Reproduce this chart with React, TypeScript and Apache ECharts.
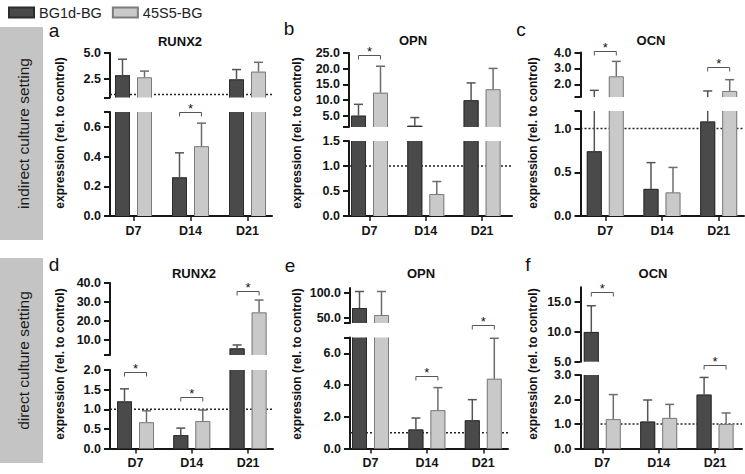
import React, { useEffect, useRef } from 'react';
import * as echarts from 'echarts';

const CATEGORIES = ['D7', 'D14', 'D21'];
const GROUPS = ['BG1d-BG', '45S5-BG'];
const REF_LEVEL = 1;

// a: RUNX2, indirect
const A_BG1D = [2.85, 0.26, 2.45];
const A_BG1D_SD = [1.55, 0.165, 0.95];
const A_45S5 = [2.65, 0.47, 3.2];
const A_45S5_SD = [0.6, 0.155, 0.9];
// b: OPN, indirect
const B_BG1D = [5.1, 1.9, 10.0];
const B_BG1D_SD = [3.6, 2.6, 5.5];
const B_45S5 = [12.4, 0.44, 13.5];
const B_45S5_SD = [8.4, 0.25, 6.6];
// c: OCN, indirect
const C_BG1D = [0.74, 0.31, 1.08];
const C_BG1D_SD = [0.88, 0.3, 0.5];
const C_45S5 = [2.5, 0.27, 1.58];
const C_45S5_SD = [0.94, 0.285, 0.71];
// d: RUNX2, direct
const D_BG1D = [1.2, 0.34, 5.5];
const D_BG1D_SD = [0.32, 0.18, 1.8];
const D_45S5 = [0.67, 0.7, 24.5];
const D_45S5_SD = [0.29, 0.28, 6.5];
// e: OPN, direct
const E_BG1D = [70, 1.2, 1.78];
const E_BG1D_SD = [33, 0.72, 1.3];
const E_45S5 = [56, 2.42, 4.4];
const E_45S5_SD = [47, 1.42, 2.55];
// f: OCN, direct
const F_BG1D = [10.0, 1.1, 2.2];
const F_BG1D_SD = [4.4, 0.88, 0.7];
const F_45S5 = [1.2, 1.25, 1.0];
const F_45S5_SD = [1.0, 0.55, 0.45];

// significance brackets: [category index, bracket level]
const A_SIG_UPPER: number[][] = [];
const A_SIG_LOWER = [[1, 0.7]];
const B_SIG_UPPER = [[0, 24.5]];
const B_SIG_LOWER: number[][] = [];
const C_SIG_UPPER = [[0, 4.12], [2, 3.1]];
const C_SIG_LOWER: number[][] = [];
const D_SIG_UPPER = [[2, 36]];
const D_SIG_LOWER = [[0, 1.95], [1, 1.3]];
const E_SIG_UPPER: number[][] = [];
const E_SIG_LOWER = [[1, 4.6], [2, 7.8]];
const F_SIG_UPPER = [[0, 16.7]];
const F_SIG_LOWER = [[2, 3.4]];

// axis segments (broken y axes)
const A_UPPER = [0.7, 5.0]; const A_UPPER_TICKS = [0.7, 2.5, 5.0]; const A_UPPER_LABELS = [2.5, 5.0];
const A_LOWER_MAX = 0.7; const A_LOWER_TICKS = [0, 0.2, 0.4, 0.6, 0.7]; const A_LOWER_LABELS = [0, 0.2, 0.4, 0.6];
const B_UPPER = [1.5, 25]; const B_UPPER_TICKS = [1.5, 5, 10, 15, 20, 25]; const B_UPPER_LABELS = [5, 10, 15, 20, 25];
const B_LOWER_MAX = 1.5; const B_LOWER_TICKS = [0, 0.5, 1, 1.5]; const B_LOWER_LABELS = [0, 0.5, 1, 1.5];
const C_UPPER = [1.2, 4]; const C_UPPER_TICKS = [1.2, 2, 3, 4]; const C_UPPER_LABELS = [2, 3, 4];
const C_LOWER_MAX = 1.2; const C_LOWER_TICKS = [0, 0.5, 1, 1.2]; const C_LOWER_LABELS = [0, 0.5, 1];
const D_UPPER = [2, 40]; const D_UPPER_TICKS = [2, 10, 20, 30, 40]; const D_UPPER_LABELS = [10, 20, 30, 40];
const D_LOWER_MAX = 2; const D_LOWER_TICKS = [0, 0.5, 1, 1.5, 2]; const D_LOWER_LABELS = [0, 0.5, 1, 1.5, 2];
const E_UPPER = [40, 110]; const E_UPPER_TICKS = [40, 50, 100]; const E_UPPER_LABELS = [50, 100];
const E_LOWER_MAX = 7; const E_LOWER_TICKS = [0, 2, 4, 6, 7]; const E_LOWER_LABELS = [0, 2, 4, 6];
const F_UPPER = [5, 17.5]; const F_UPPER_TICKS = [5, 10, 15]; const F_UPPER_LABELS = [5, 10, 15];
const F_LOWER_MAX = 3; const F_LOWER_TICKS = [0, 1, 2, 3]; const F_LOWER_LABELS = [0, 1, 2, 3];

const FONT = 'Liberation Sans, Arial, sans-serif';
const AXIS_COLOR = '#161616';
const DARK_FILL = '#4a4a4a';
const DARK_STROKE = '#2c2c2c';
const DARK_WHISKER = '#555555';
const LIGHT_FILL = '#c9c9c9';
const LIGHT_STROKE = '#7c7c7c';
const LIGHT_WHISKER = '#6c6c6c';
const BAR_W = 15;
const BAR_OFF = 11;

const PANELS = [
  { letter: 'a', title: 'RUNX2', bg1d: A_BG1D, bg1dSd: A_BG1D_SD, s45: A_45S5, s45Sd: A_45S5_SD,
    upper: A_UPPER, upperTicks: A_UPPER_TICKS, upperLabels: A_UPPER_LABELS,
    lowerMax: A_LOWER_MAX, lowerTicks: A_LOWER_TICKS, lowerLabels: A_LOWER_LABELS,
    sigUpper: A_SIG_UPPER, sigLower: A_SIG_LOWER,
    lay: { axisX: 110, cat0: 133.5, step: 57, endX: 272, uT: 53, uB: 97.5, lT: 112, lB: 216, titleX: 180, titleY: 41, nameX: 60, nameY: 133, letterX: 54, letterY: 30 } },
  { letter: 'b', title: 'OPN', bg1d: B_BG1D, bg1dSd: B_BG1D_SD, s45: B_45S5, s45Sd: B_45S5_SD,
    upper: B_UPPER, upperTicks: B_UPPER_TICKS, upperLabels: B_UPPER_LABELS,
    lowerMax: B_LOWER_MAX, lowerTicks: B_LOWER_TICKS, lowerLabels: B_LOWER_LABELS,
    sigUpper: B_SIG_UPPER, sigLower: B_SIG_LOWER,
    lay: { axisX: 349, cat0: 369.5, step: 56.3, endX: 512, uT: 53, uB: 127, lT: 141, lB: 216, titleX: 413, titleY: 40, nameX: 297, nameY: 133, letterX: 289, letterY: 28 } },
  { letter: 'c', title: 'OCN', bg1d: C_BG1D, bg1dSd: C_BG1D_SD, s45: C_45S5, s45Sd: C_45S5_SD,
    upper: C_UPPER, upperTicks: C_UPPER_TICKS, upperLabels: C_UPPER_LABELS,
    lowerMax: C_LOWER_MAX, lowerTicks: C_LOWER_TICKS, lowerLabels: C_LOWER_LABELS,
    sigUpper: C_SIG_UPPER, sigLower: C_SIG_LOWER,
    lay: { axisX: 580.5, cat0: 605.3, step: 56.7, endX: 744, uT: 52.5, uB: 97, lT: 111, lB: 216, titleX: 651, titleY: 40, nameX: 533, nameY: 133, letterX: 521, letterY: 29 } },
  { letter: 'd', title: 'RUNX2', bg1d: D_BG1D, bg1dSd: D_BG1D_SD, s45: D_45S5, s45Sd: D_45S5_SD,
    upper: D_UPPER, upperTicks: D_UPPER_TICKS, upperLabels: D_UPPER_LABELS,
    lowerMax: D_LOWER_MAX, lowerTicks: D_LOWER_TICKS, lowerLabels: D_LOWER_LABELS,
    sigUpper: D_SIG_UPPER, sigLower: D_SIG_LOWER,
    lay: { axisX: 110, cat0: 135.5, step: 56.3, endX: 273, uT: 283, uB: 355, lT: 370, lB: 448.5, titleX: 194, titleY: 273, nameX: 60, nameY: 364, letterX: 54, letterY: 264 } },
  { letter: 'e', title: 'OPN', bg1d: E_BG1D, bg1dSd: E_BG1D_SD, s45: E_45S5, s45Sd: E_45S5_SD,
    upper: E_UPPER, upperTicks: E_UPPER_TICKS, upperLabels: E_UPPER_LABELS,
    lowerMax: E_LOWER_MAX, lowerTicks: E_LOWER_TICKS, lowerLabels: E_LOWER_LABELS,
    sigUpper: E_SIG_UPPER, sigLower: E_SIG_LOWER,
    lay: { axisX: 350, cat0: 370.5, step: 56.4, endX: 508, uT: 288, uB: 323, lT: 337.5, lB: 448.5, titleX: 421, titleY: 273, nameX: 297, nameY: 364, letterX: 290, letterY: 265 } },
  { letter: 'f', title: 'OCN', bg1d: F_BG1D, bg1dSd: F_BG1D_SD, s45: F_45S5, s45Sd: F_45S5_SD,
    upper: F_UPPER, upperTicks: F_UPPER_TICKS, upperLabels: F_UPPER_LABELS,
    lowerMax: F_LOWER_MAX, lowerTicks: F_LOWER_TICKS, lowerLabels: F_LOWER_LABELS,
    sigUpper: F_SIG_UPPER, sigLower: F_SIG_LOWER,
    lay: { axisX: 580.5, cat0: 602.3, step: 56.4, endX: 742, uT: 287.3, uB: 361.7, lT: 375, lB: 448.5, titleX: 653, titleY: 273, nameX: 533, nameY: 364, letterX: 528, letterY: 264 } },
];

const SIDE_BOXES = [
  { text: 'indirect culture setting', y: 27, h: 213 },
  { text: 'direct culture setting', y: 258, h: 205 },
];

function barRenderer(off: number, fill: string, stroke: string, whisker: string) {
  return (params: any, api: any) => {
    const cs = params.coordSys;
    const top = cs.y;
    const bottom = cs.y + cs.height;
    const i = api.value(0);
    const v = api.value(1);
    const e = api.value(2);
    const cx = api.coord([i, 0])[0] + off;
    const yv = api.coord([i, v])[1];
    const ye = api.coord([i, v + e])[1];
    const L = cx - BAR_W / 2;
    const R = cx + BAR_W / 2;
    const ch: any[] = [];
    if (yv < bottom - 0.01) {
      const yt = Math.max(yv, top);
      ch.push({ type: 'rect', shape: { x: L, y: yt, width: BAR_W, height: bottom - yt }, style: { fill } });
      if (yv >= top) {
        ch.push({ type: 'polyline', shape: { points: [[L + 0.5, bottom], [L + 0.5, yv + 0.5], [R - 0.5, yv + 0.5], [R - 0.5, bottom]] }, style: { fill: 'none', stroke, lineWidth: 1 } });
      } else {
        ch.push({ type: 'line', shape: { x1: L + 0.5, y1: top, x2: L + 0.5, y2: bottom }, style: { stroke, lineWidth: 1 } });
        ch.push({ type: 'line', shape: { x1: R - 0.5, y1: top, x2: R - 0.5, y2: bottom }, style: { stroke, lineWidth: 1 } });
      }
    }
    const wTop = Math.max(ye, top);
    const wBot = Math.min(yv, bottom);
    if (wTop < wBot) {
      ch.push({ type: 'line', shape: { x1: cx, y1: wBot, x2: cx, y2: wTop }, style: { stroke: whisker, lineWidth: 1.5 } });
    }
    if (ye >= top - 0.5 && ye <= bottom) {
      ch.push({ type: 'line', shape: { x1: cx - 4.5, y1: ye, x2: cx + 4.5, y2: ye }, style: { stroke: whisker, lineWidth: 1.5 } });
    }
    return { type: 'group', children: ch };
  };
}

const bracketRenderer = (params: any, api: any) => {
  const c = api.coord([api.value(0), api.value(1)]);
  const xl = c[0] - BAR_OFF;
  const xr = c[0] + BAR_OFF;
  const y = Math.round(c[1]) + 0.5;
  return {
    type: 'group',
    children: [
      { type: 'polyline', shape: { points: [[xl, y + 4], [xl, y], [xr, y], [xr, y + 4]] }, style: { fill: 'none', stroke: '#555', lineWidth: 1 } },
      { type: 'text', x: c[0], y: y - 4, style: { text: '*', fill: '#111', font: `13px ${FONT}`, align: 'center', textAlign: 'center', verticalAlign: 'middle', textVerticalAlign: 'middle' } },
    ],
  };
};

const refRenderer = (params: any, api: any) => {
  const cs = params.coordSys;
  const y = api.coord([0, api.value(0)])[1];
  if (y < cs.y || y > cs.y + cs.height) return { type: 'group', children: [] };
  return { type: 'line', shape: { x1: cs.x, y1: y, x2: cs.x + cs.width, y2: y }, style: { stroke: '#222', lineWidth: 1.5, lineDash: [2, 2] } };
};

function buildOption() {
  const grid: any[] = [];
  const xAxis: any[] = [];
  const yAxis: any[] = [];
  const series: any[] = [];
  const graphic: any[] = [];
  const labelStyle = { fontFamily: FONT, fontWeight: 'bold', fontSize: 12.5, color: '#141414' };

  SIDE_BOXES.forEach((b) => {
    graphic.push({ type: 'rect', shape: { x: 0, y: b.y, width: 43, height: b.h }, style: { fill: '#c4c4c4' }, silent: true });
    graphic.push({ type: 'text', x: 23, y: b.y + b.h / 2, rotation: Math.PI / 2, style: { text: b.text, fill: '#1a1a1a', font: `15.5px ${FONT}`, align: 'center', verticalAlign: 'middle', textAlign: 'center', textVerticalAlign: 'middle' }, silent: true });
  });

  PANELS.forEach((p, pi) => {
    const l = p.lay;
    const xMin = (l.axisX - l.cat0) / l.step;
    const xMax = (l.endX - l.cat0) / l.step;
    const gU = pi * 2;
    const gL = pi * 2 + 1;
    grid.push({ left: l.axisX, width: l.endX - l.axisX, top: l.uT, height: l.uB - l.uT });
    grid.push({ left: l.axisX, width: l.endX - l.axisX, top: l.lT, height: l.lB - l.lT });
    xAxis.push({ type: 'value', gridIndex: gU, min: xMin, max: xMax, show: false });
    xAxis.push({
      type: 'value', gridIndex: gL, min: xMin, max: xMax,
      axisLine: { show: true, onZero: false, lineStyle: { color: AXIS_COLOR, width: 2 } },
      axisTick: { show: true, customValues: [0, 1, 2], length: 5, lineStyle: { color: AXIS_COLOR, width: 1.5 } },
      axisLabel: { customValues: [0, 1, 2], formatter: (v: number) => CATEGORIES[Math.round(v)], margin: 8, ...labelStyle },
      splitLine: { show: false },
    });
    const yCommon = (ticks: number[], labels: number[]) => ({
      axisLine: { show: true, onZero: false, lineStyle: { color: AXIS_COLOR, width: 2 } },
      axisTick: { show: true, customValues: ticks, length: 6, lineStyle: { color: AXIS_COLOR, width: 2 } },
      axisLabel: { customValues: labels, formatter: (v: number) => v.toFixed(1), margin: 9, ...labelStyle },
      splitLine: { show: false },
    });
    yAxis.push({ type: 'value', gridIndex: gU, min: p.upper[0], max: p.upper[1], ...yCommon(p.upperTicks, p.upperLabels) });
    yAxis.push({ type: 'value', gridIndex: gL, min: 0, max: p.lowerMax, ...yCommon(p.lowerTicks, p.lowerLabels) });

    [gU, gL].forEach((g) => {
      series.push({ type: 'custom', name: 'ref', xAxisIndex: g, yAxisIndex: g, z: 1, silent: true, data: [[REF_LEVEL]], renderItem: refRenderer });
      series.push({
        type: 'custom', name: GROUPS[0], xAxisIndex: g, yAxisIndex: g, z: 2, silent: true,
        itemStyle: { color: DARK_FILL, borderColor: DARK_STROKE, borderWidth: 1 },
        encode: { x: 0, y: 1 },
        data: CATEGORIES.map((_, i) => [i, p.bg1d[i], p.bg1dSd[i]]),
        renderItem: barRenderer(-BAR_OFF, DARK_FILL, DARK_STROKE, DARK_WHISKER),
      });
      series.push({
        type: 'custom', name: GROUPS[1], xAxisIndex: g, yAxisIndex: g, z: 2, silent: true,
        itemStyle: { color: LIGHT_FILL, borderColor: LIGHT_STROKE, borderWidth: 1 },
        encode: { x: 0, y: 1 },
        data: CATEGORIES.map((_, i) => [i, p.s45[i], p.s45Sd[i]]),
        renderItem: barRenderer(BAR_OFF, LIGHT_FILL, LIGHT_STROKE, LIGHT_WHISKER),
      });
    });
    if (p.sigUpper.length) series.push({ type: 'custom', name: 'sig', xAxisIndex: gU, yAxisIndex: gU, z: 3, silent: true, data: p.sigUpper, renderItem: bracketRenderer });
    if (p.sigLower.length) series.push({ type: 'custom', name: 'sig', xAxisIndex: gL, yAxisIndex: gL, z: 3, silent: true, data: p.sigLower, renderItem: bracketRenderer });

    graphic.push({ type: 'text', x: l.letterX, y: l.letterY, style: { text: p.letter, fill: '#111', font: `19px ${FONT}`, align: 'center', verticalAlign: 'middle', textAlign: 'center', textVerticalAlign: 'middle' }, silent: true });
    graphic.push({ type: 'text', x: l.titleX, y: l.titleY, style: { text: p.title, fill: '#111', font: `bold 13px ${FONT}`, align: 'center', verticalAlign: 'middle', textAlign: 'center', textVerticalAlign: 'middle' }, silent: true });
    graphic.push({ type: 'text', x: l.nameX, y: l.nameY, rotation: Math.PI / 2, style: { text: 'expression (rel. to control)', fill: '#111', font: `bold 12px ${FONT}`, align: 'center', verticalAlign: 'middle', textAlign: 'center', textVerticalAlign: 'middle' }, silent: true });
  });

  return {
    animation: false,
    backgroundColor: '#ffffff',
    legend: {
      left: 3, top: 0, itemWidth: 25, itemHeight: 10, itemGap: 10, icon: 'rect', selectedMode: false,
      textStyle: { fontFamily: FONT, fontSize: 14.5, color: '#222' },
      data: GROUPS,
    },
    grid, xAxis, yAxis, series, graphic,
  };
}

export default function App() {
  const ref = useRef<HTMLDivElement>(null);
  useEffect(() => {
    if (!ref.current) return;
    const chart = echarts.init(ref.current, null, { renderer: 'svg' });
    chart.setOption(buildOption() as any);
    return () => chart.dispose();
  }, []);
  return <div ref={ref} style={{ position: 'absolute', left: 0, top: 0, width: 745, height: 474, background: '#fff' }} />;
}
